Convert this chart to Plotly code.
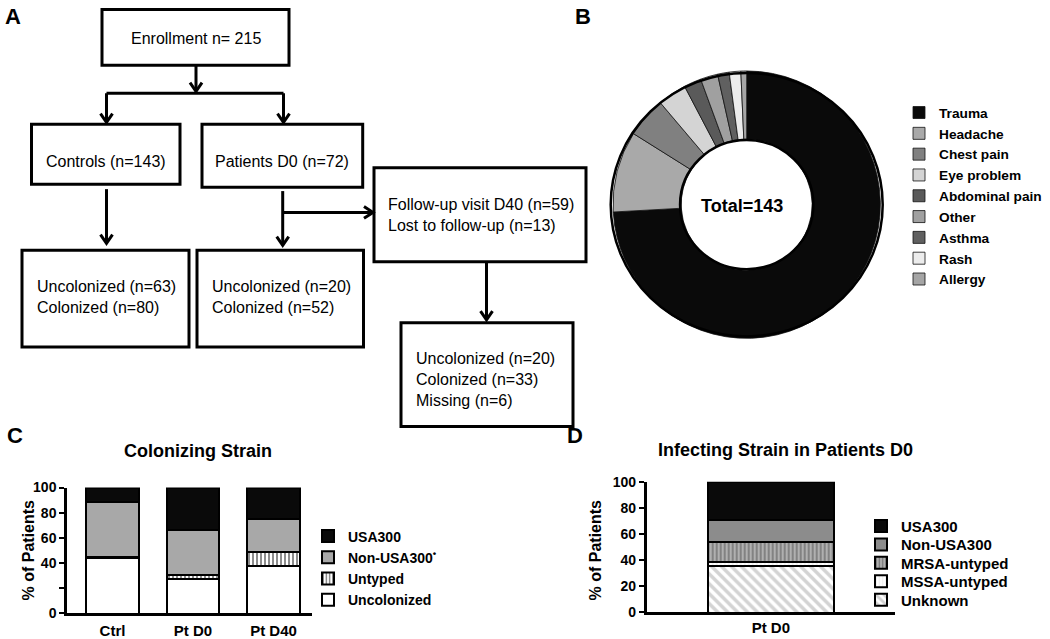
import plotly.graph_objects as go

W, H = 1050, 639

# ---------------- data ----------------
flow_texts = {
    "enroll": "Enrollment n= 215",
    "controls": "Controls (n=143)",
    "patients": "Patients D0 (n=72)",
    "followup": "Follow-up visit D40 (n=59)<br>Lost to follow-up (n=13)",
    "ctrl_out": "Uncolonized (n=63)<br>Colonized (n=80)",
    "pt_out": "Uncolonized (n=20)<br>Colonized (n=52)",
    "d40_out": "Uncolonized (n=20)<br>Colonized (n=33)<br>Missing (n=6)",
}

complaint_labels = ["Trauma", "Headache", "Chest pain", "Eye problem", "Abdominal pain",
                    "Other", "Asthma", "Rash", "Allergy"]
complaint_counts = [106, 14, 7, 5, 3, 3, 2, 2, 1]
complaint_colors = ["#0a0a0a", "#a9a9a9", "#808080", "#d4d4d4", "#5a5a5a",
                    "#a0a0a0", "#606060", "#ececec", "#a5a5a5"]
donut_total_label = "Total=143"

col_categories = ["Ctrl", "Pt D0", "Pt D40"]
col_uncolonized = [44.1, 27.8, 37.7]
col_untyped = [1.4, 2.8, 11.3]
col_non_usa300 = [43.3, 36.1, 26.4]
col_usa300 = [11.2, 33.3, 24.6]

inf_category = ["Pt D0"]
inf_unknown = [36.1]
inf_mssa_untyped = [2.8]
inf_mrsa_untyped = [15.3]
inf_non_usa300 = [16.7]
inf_usa300 = [29.1]

c_ticks = [0, 20, 40, 60, 80, 100]
c_ticktext = ["0", "", "40", "60", "80", "100"]
d_ticks = [0, 20, 40, 60, 80, 100]
d_ticktext = ["0", "20", "40", "60", "80", "100"]

# ---------------- helpers ----------------
def px(x):
    return x / W

def py(y):
    return 1 - y / H

FONT = "Liberation Sans, Arial, sans-serif"

fig = go.Figure()

# ---------------- panel B: donut ----------------
cx, cy, R = 746.7, 203, 136
fig.add_trace(go.Pie(
    labels=complaint_labels, values=complaint_counts, sort=False,
    direction="clockwise", rotation=0, hole=0.49,
    marker=dict(colors=complaint_colors, line=dict(color="#111", width=0.8)),
    textinfo="none", hoverinfo="label+value",
    domain=dict(x=[px(cx - R - 2), px(cx + R + 2)], y=[py(cy + R + 2), py(cy - R - 2)]),
    legend="legend", showlegend=True,
))

# ---------------- panel C: colonizing strain ----------------
bar_line = dict(color="black", width=2)
fig.add_trace(go.Bar(x=col_categories, y=col_uncolonized, name="Uncolonized",
                     marker=dict(color="white", line=bar_line), width=0.65,
                     xaxis="x", yaxis="y", legend="legend2"))
fig.add_trace(go.Bar(x=col_categories, y=col_untyped, name="Untyped",
                     marker=dict(color="white", line=bar_line,
                                 pattern=dict(shape="|", fgcolor="black", bgcolor="white",
                                              size=4, solidity=0.45)),
                     width=0.65, xaxis="x", yaxis="y", legend="legend2"))
fig.add_trace(go.Bar(x=col_categories, y=col_non_usa300, name="Non-USA300<sup>•</sup>",
                     marker=dict(color="#a8a8a8", line=bar_line), width=0.65,
                     xaxis="x", yaxis="y", legend="legend2"))
fig.add_trace(go.Bar(x=col_categories, y=col_usa300, name="USA300",
                     marker=dict(color="#0a0a0a", line=bar_line), width=0.65,
                     xaxis="x", yaxis="y", legend="legend2"))

# ---------------- panel D: infecting strain ----------------
fig.add_trace(go.Bar(x=inf_category, y=inf_unknown, name="Unknown",
                     marker=dict(color="white", line=bar_line,
                                 pattern=dict(shape="\\", fgcolor="#a8a8a8", bgcolor="white",
                                              size=7, solidity=0.5)),
                     width=0.51, xaxis="x2", yaxis="y2", legend="legend7"))
fig.add_trace(go.Bar(x=inf_category, y=inf_mssa_untyped, name="MSSA-untyped",
                     marker=dict(color="white", line=bar_line,
                                 pattern=dict(shape="|", fgcolor="#dddddd", bgcolor="white",
                                              size=4, solidity=0.4)),
                     width=0.51, xaxis="x2", yaxis="y2", legend="legend6"))
fig.add_trace(go.Bar(x=inf_category, y=inf_mrsa_untyped, name="MRSA-untyped",
                     marker=dict(color="#a0a0a0", line=bar_line,
                                 pattern=dict(shape="|", fgcolor="#3a3a3a", bgcolor="#b0b0b0",
                                              size=4, solidity=0.4)),
                     width=0.51, xaxis="x2", yaxis="y2", legend="legend5"))
fig.add_trace(go.Bar(x=inf_category, y=inf_non_usa300, name="Non-USA300",
                     marker=dict(color="#8c8c8c", line=bar_line), width=0.51,
                     xaxis="x2", yaxis="y2", legend="legend4"))
fig.add_trace(go.Bar(x=inf_category, y=inf_usa300, name="USA300",
                     marker=dict(color="#0a0a0a", line=bar_line), width=0.51,
                     xaxis="x2", yaxis="y2", legend="legend3"))

# ---------------- shapes: flowchart ----------------
shapes = []
def box(x0, y0, x1, y1):
    shapes.append(dict(type="rect", xref="paper", yref="paper",
                       x0=px(x0), x1=px(x1), y0=py(y1), y1=py(y0),
                       line=dict(color="black", width=3), fillcolor="rgba(0,0,0,0)"))

def line(pts):
    d = "M " + " L ".join(f"{px(x)},{py(y)}" for x, y in pts)
    shapes.append(dict(type="path", xref="paper", yref="paper", path=d,
                       line=dict(color="black", width=3)))

def arrow_down(x, y0, y1):
    line([(x, y0), (x, y1)])
    line([(x - 6, y1 - 9), (x, y1), (x + 6, y1 - 9)])

def arrow_right(x0, x1, y):
    line([(x0, y), (x1, y)])
    line([(x1 - 9, y - 6), (x1, y), (x1 - 9, y + 6)])

box(102, 1.5, 289, 59)
arrow_down(196, 59, 86)
line([(106.5, 88), (283.5, 88)])
arrow_down(106.5, 88, 118)
arrow_down(283.5, 88, 118)
box(31.5, 120, 180, 182)
box(202, 120, 362.7, 185)
arrow_down(106.5, 187, 243)
arrow_down(282.7, 189, 245)
arrow_right(282.7, 373, 211)
box(374, 165, 586, 262)
box(22, 250, 189, 350)
box(197, 250, 363.5, 350)
arrow_down(486.5, 262, 322)
box(401, 325, 573, 432)

# donut outlines
for rr in (R, R * 0.49):
    shapes.append(dict(type="circle", xref="paper", yref="paper",
                       x0=px(cx - rr), x1=px(cx + rr), y0=py(cy + rr), y1=py(cy - rr),
                       line=dict(color="black", width=2.5)))

# ---------------- annotations ----------------
ann = []
def text(x, y, s, size=16, bold=False, xanchor="center", align="center", angle=0):
    ann.append(dict(x=px(x), y=py(y), xref="paper", yref="paper", text=s,
                    showarrow=False, xanchor=xanchor, yanchor="middle", align=align,
                    textangle=angle,
                    font=dict(family=FONT, size=size, color="black",
                              weight="bold" if bold else "normal")))

text(196, 32, flow_texts["enroll"])
text(106, 158, flow_texts["controls"])
text(282, 158, flow_texts["patients"])
text(386, 214, flow_texts["followup"], xanchor="left", align="left")
text(34.6, 298.5, flow_texts["ctrl_out"], xanchor="left", align="left")
text(209.6, 298.5, flow_texts["pt_out"], xanchor="left", align="left")
text(413.5, 383, flow_texts["d40_out"], xanchor="left", align="left")

text(13, 9, "A", size=22, bold=True)
text(583, 9, "B", size=22, bold=True)
text(15, 441, "C", size=22, bold=True)
text(575, 441, "D", size=22, bold=True)

text(742, 204, donut_total_label, size=18, bold=True)
text(198, 457, "Colonizing Strain", size=18, bold=True)
text(785, 456, "Infecting Strain in Patients D0", size=18, bold=True)
text(28, 560, "% of Patients", size=16, bold=True, angle=-90)
text(595, 560, "% of Patients", size=16, bold=True, angle=-90)

axis_common = dict(showgrid=False, zeroline=False, showline=True, linecolor="black",
                   linewidth=2.5, color="black", fixedrange=True)

def leg(x, y_top, size):
    return dict(x=px(x), y=py(y_top), xanchor="left", yanchor="top",
                font=dict(family=FONT, size=size, weight="bold", color="black"),
                bgcolor="rgba(0,0,0,0)", traceorder="reversed")

layout_legends = {
    "legend": dict(leg(899, 92, 13.7), traceorder="normal"),
    "legend2": leg(308, 529, 14),
}
d_rows = [530, 549, 568, 587, 606]
for i, yc in enumerate(d_rows):
    layout_legends[f"legend{3 + i}"] = leg(861, yc - 12, 15)

fig.update_layout(
    width=W, height=H, autosize=False,
    margin=dict(l=0, r=0, t=0, b=0),
    paper_bgcolor="white", plot_bgcolor="white",
    barmode="stack", bargap=0,
    font=dict(family=FONT, color="black"),
    shapes=shapes, annotations=ann,
    xaxis=dict(domain=[px(67), px(312)], anchor="y", range=[-0.565, 2.478],
               ticks="", tickfont=dict(size=15, weight="bold"), ticklabelstandoff=2,
               **axis_common),
    yaxis=dict(domain=[py(625), py(495)], anchor="x", range=[0, 100],
               tickvals=c_ticks, ticktext=c_ticktext, ticks="outside", ticklen=5,
               tickwidth=2, tickfont=dict(size=14, weight="bold"), **axis_common),
    xaxis2=dict(domain=[px(646.7), px(895)], anchor="y2", range=[-0.5, 0.5],
                ticks="", tickfont=dict(size=15, weight="bold"), ticklabelstandoff=0,
                **axis_common),
    yaxis2=dict(domain=[py(624), py(489)], anchor="x2", range=[0, 100],
                tickvals=d_ticks, ticktext=d_ticktext, ticks="outside", ticklen=5,
                tickwidth=2, tickfont=dict(size=14, weight="bold"), **axis_common),
    **layout_legends,
)

fig.write_html("out.html", config={"displayModeBar": False},
               post_script="document.body.style.margin='0px';")
